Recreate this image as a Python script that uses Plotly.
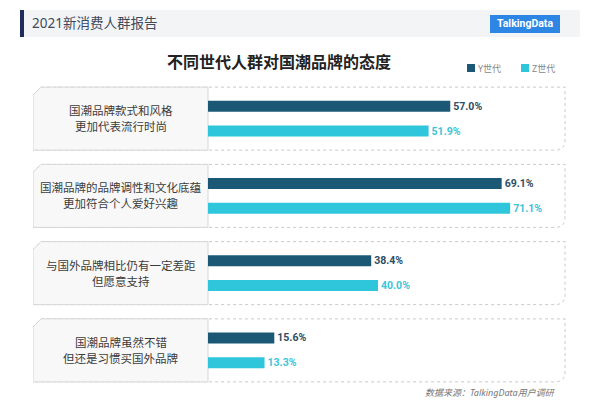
import plotly.graph_objects as go

categories = [
    "国潮品牌款式和风格<br>更加代表流行时尚",
    "国潮品牌的品牌调性和文化底蕴<br>更加符合个人爱好兴趣",
    "与国外品牌相比仍有一定差距<br>但愿意支持",
    "国潮品牌虽然不错<br>但还是习惯买国外品牌",
]
series_names = ["Y世代", "Z世代"]
y_values = [57.0, 69.1, 38.4, 15.6]
z_values = [51.9, 71.1, 40.0, 13.3]
colors = ["#1b5876", "#2fc6dc"]
text_colors = ["#2c4e63", "#3cc4d9"]

FONT = "Noto Sans, Noto Sans CJK SC, sans-serif"
W, H = 600, 400
L, R, T, B = 33, 28, 80, 11
PLOT_W = W - L - R
PLOT_H = H - T - B
X0_PX = 208
PX_PER = 4.25
x_left = (L - X0_PX) / PX_PER
x_right = (W - R - X0_PX) / PX_PER


def px_x(p):
    return (p - L) / PLOT_W


def px_y(p):
    return (H - B - p) / PLOT_H


pos = list(range(len(categories)))

fig = go.Figure()
for name, vals, c, tc in zip(series_names, [y_values, z_values], colors, text_colors):
    fig.add_trace(go.Bar(
        y=pos, x=vals, orientation="h", name=name,
        marker=dict(color=c, line=dict(width=0)),
        texttemplate="<b>%{x:.1f}%</b>", textposition="outside",
        constraintext="none",
        textfont=dict(family="Roboto", size=10.5, color=tc),
        cliponaxis=False, hoverinfo="skip", showlegend=False,
    ))

shapes = []
annotations = []
band = PLOT_H / len(categories)
half = 31.5 / band
cy = 8 / band
cx = 8 / PX_PER
rx = 10 / PX_PER
ry = 10 / band
xr = (565 - X0_PX) / PX_PER
label_center = ((L + X0_PX) / 2 - X0_PX) / PX_PER
for i, cat in enumerate(categories):
    top, bot = i - half, i + half
    shapes.append(dict(
        type="path", xref="x", yref="y", layer="below",
        path=f"M{x_left + cx},{top} L{xr},{top} L{xr},{bot - ry} Q{xr},{bot} {xr - rx},{bot} L{x_left},{bot} L{x_left},{top + cy} Z",
        line=dict(color="#c9c9c9", width=1, dash="dot"), fillcolor="rgba(0,0,0,0)",
    ))
    shapes.append(dict(
        type="path", xref="x", yref="y", layer="below",
        path=f"M{x_left + cx},{top} L0,{top} L0,{bot} L{x_left},{bot} L{x_left},{top + cy} Z",
        line=dict(color="#d6d6d6", width=1), fillcolor="#f8f8f8",
    ))
    lines = cat.split("<br>")
    for j, line in enumerate(lines):
        shift = (len(lines) - 1) / 2 * 16 - j * 16
        annotations.append(dict(
            x=label_center, y=i, xref="x", yref="y", text=line, showarrow=False,
            yshift=shift, font=dict(family=FONT, size=11.5, color="#3c3c3c"),
            align="center",
        ))

# header
shapes.append(dict(type="rect", xref="paper", yref="paper", layer="below",
                   x0=px_x(22), x1=px_x(580), y0=px_y(37), y1=px_y(10),
                   fillcolor="#f3f4f6", line=dict(width=0)))
shapes.append(dict(type="rect", xref="paper", yref="paper",
                   x0=px_x(20), x1=px_x(24), y0=px_y(37), y1=px_y(10),
                   fillcolor="#1f2c5c", line=dict(width=0)))
shapes.append(dict(type="rect", xref="paper", yref="paper",
                   x0=px_x(490), x1=px_x(560), y0=px_y(33), y1=px_y(15),
                   fillcolor="#2e86e4", line=dict(width=0)))
annotations.append(dict(x=px_x(30), y=px_y(23), xref="paper", yref="paper",
                        xanchor="left", yanchor="middle", showarrow=False,
                        text="2021新消费人群报告",
                        font=dict(family=FONT, size=13.5, color="#3d4a5c")))
annotations.append(dict(x=px_x(525), y=px_y(24), xref="paper", yref="paper",
                        xanchor="center", yanchor="middle", showarrow=False,
                        text="<b>TalkingData</b>",
                        font=dict(family="Roboto", size=10.5, color="#ffffff")))
# title
annotations.append(dict(x=px_x(279), y=px_y(62), xref="paper", yref="paper",
                        xanchor="center", yanchor="middle", showarrow=False,
                        text="<b>不同世代人群对国潮品牌的态度</b>",
                        font=dict(family=FONT, size=16, color="#222222")))
# legend
for name, c, lx in zip(series_names, colors, [467, 521]):
    shapes.append(dict(type="rect", xref="paper", yref="paper",
                       x0=px_x(lx), x1=px_x(lx + 8), y0=px_y(72), y1=px_y(64),
                       fillcolor=c, line=dict(width=0)))
    annotations.append(dict(x=px_x(lx + 9), y=px_y(68), xref="paper", yref="paper",
                            xanchor="left", yanchor="middle", showarrow=False,
                            text=name, font=dict(family=FONT, size=9, color="#888888")))
# source
annotations.append(dict(x=px_x(558), y=px_y(392), xref="paper", yref="paper",
                        xanchor="right", yanchor="middle", showarrow=False,
                        text="<i>数据来源：TalkingData用户调研</i>",
                        font=dict(family=FONT, size=9, color="#777777")))

fig.update_layout(
    width=W, height=H, margin=dict(l=L, r=R, t=T, b=B),
    paper_bgcolor="white", plot_bgcolor="white",
    barmode="group", bargap=0.353, bargroupgap=0.56,
    xaxis=dict(range=[x_left, x_right], visible=False, fixedrange=True),
    yaxis=dict(range=[len(categories) - 0.5, -0.5], visible=False, fixedrange=True),
    shapes=shapes, annotations=annotations, showlegend=False,
)
fig.write_html("out.html", config={"displayModeBar": False},
               post_script="document.body.style.margin='0';document.body.style.overflow='hidden';")
